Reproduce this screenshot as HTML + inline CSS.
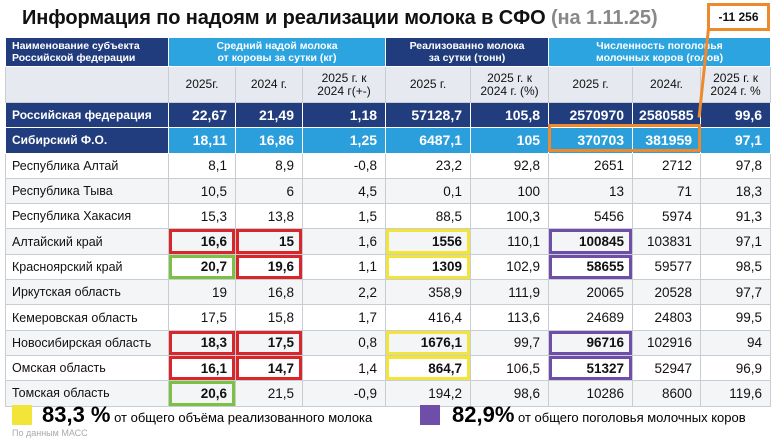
<!DOCTYPE html>
<html><head><meta charset="utf-8"><style>
body{margin:0;width:775px;height:443px;background:#fff;font-family:"Liberation Sans",sans-serif;position:relative;overflow:hidden}
#title{position:absolute;left:22px;top:7px;font-size:20px;font-weight:bold;color:#111;white-space:nowrap;letter-spacing:-0.1px}
#title span{color:#888}
table{position:absolute;left:5px;top:37px;border-collapse:collapse;table-layout:fixed;width:765px}
td{border:1px solid #c8cdd4;height:24.3px;padding:0 8px 0 6px;font-size:13.5px;text-align:right;color:#111;white-space:nowrap}
td.n{text-align:left;font-size:12.5px}
.h1 td{height:28px;color:#fff;font-size:10.5px;font-weight:bold;text-align:center;line-height:12px;border-color:#fff;padding:0}
.h1 td.n{text-align:left;padding-left:6px}
.h2 td{height:35px;background:#e6eaf0;text-align:center;font-size:12px;padding:0;line-height:13px}
.dk{background:#213c7c}.lt{background:#2ba4df}
.rf td,.sf td{color:#fff;font-weight:bold;font-size:14px;border-color:#fff}
.rf td{background:#223d7d}.sf td{background:#2b9fdc}.sf td.n{background:#223d7d}
.rf td.n,.sf td.n{font-size:12px}
tbody.d tr:nth-child(even) td{background:#f4f5f7}
.r{box-shadow:inset 0 0 0 3px #d9262a;font-weight:bold}
.g{box-shadow:inset 0 0 0 3px #7cc142;font-weight:bold}
.y{box-shadow:inset 0 0 0 3px #f3e43a;font-weight:bold}
.p{box-shadow:inset 0 0 0 3px #6e4ea8;font-weight:bold}
.o{position:absolute;border:3px solid #ee8a2c}
</style></head><body>
<div id="title">Информация по надоям и реализации молока в СФО <span>(на 1.11.25)</span></div>
<table>
<colgroup><col style="width:163px"><col style="width:67px"><col style="width:67px"><col style="width:83px"><col style="width:85px"><col style="width:78px"><col style="width:84px"><col style="width:68px"><col style="width:70px"></colgroup>
<tr class="h1"><td class="n dk">Наименование субъекта<br>Российской федерации</td><td colspan="3" class="lt">Средний надой молока<br>от коровы за сутки (кг)</td><td colspan="2" class="dk">Реализованно молока<br>за сутки (тонн)</td><td colspan="3" class="lt">Численность поголовья<br>молочных коров (голов)</td></tr>
<tr class="h2"><td></td><td>2025г.</td><td>2024 г.</td><td>2025 г. к<br>2024 г(+-)</td><td>2025 г.</td><td>2025 г. к<br>2024 г. (%)</td><td>2025 г.</td><td>2024г.</td><td>2025 г. к<br>2024 г. %</td></tr>
<tr class="rf"><td class="n">Российская федерация</td><td>22,67</td><td>21,49</td><td>1,18</td><td>57128,7</td><td>105,8</td><td>2570970</td><td>2580585</td><td>99,6</td></tr>
<tr class="sf"><td class="n">Сибирский Ф.О.</td><td>18,11</td><td>16,86</td><td>1,25</td><td>6487,1</td><td>105</td><td>370703</td><td>381959</td><td>97,1</td></tr>
<tbody class="d">
<tr><td class="n">Республика Алтай</td><td>8,1</td><td>8,9</td><td>-0,8</td><td>23,2</td><td>92,8</td><td>2651</td><td>2712</td><td>97,8</td></tr>
<tr><td class="n">Республика Тыва</td><td>10,5</td><td>6</td><td>4,5</td><td>0,1</td><td>100</td><td>13</td><td>71</td><td>18,3</td></tr>
<tr><td class="n">Республика Хакасия</td><td>15,3</td><td>13,8</td><td>1,5</td><td>88,5</td><td>100,3</td><td>5456</td><td>5974</td><td>91,3</td></tr>
<tr><td class="n">Алтайский край</td><td class="r">16,6</td><td class="r">15</td><td>1,6</td><td class="y">1556</td><td>110,1</td><td class="p">100845</td><td>103831</td><td>97,1</td></tr>
<tr><td class="n">Красноярский край</td><td class="g">20,7</td><td class="r">19,6</td><td>1,1</td><td class="y">1309</td><td>102,9</td><td class="p">58655</td><td>59577</td><td>98,5</td></tr>
<tr><td class="n">Иркутская область</td><td>19</td><td>16,8</td><td>2,2</td><td>358,9</td><td>111,9</td><td>20065</td><td>20528</td><td>97,7</td></tr>
<tr><td class="n">Кемеровская область</td><td>17,5</td><td>15,8</td><td>1,7</td><td>416,4</td><td>113,6</td><td>24689</td><td>24803</td><td>99,5</td></tr>
<tr><td class="n">Новосибирская область</td><td class="r">18,3</td><td class="r">17,5</td><td>0,8</td><td class="y">1676,1</td><td>99,7</td><td class="p">96716</td><td>102916</td><td>94</td></tr>
<tr><td class="n">Омская область</td><td class="r">16,1</td><td class="r">14,7</td><td>1,4</td><td class="y">864,7</td><td>106,5</td><td class="p">51327</td><td>52947</td><td>96,9</td></tr>
<tr><td class="n">Томская область</td><td class="g">20,6</td><td>21,5</td><td>-0,9</td><td>194,2</td><td>98,6</td><td>10286</td><td>8600</td><td>119,6</td></tr>
</tbody></table>
<div class="o" style="left:548px;top:124px;width:147px;height:22px"></div>
<div class="o" style="left:707px;top:3px;width:57px;height:22px;font-size:12px;font-weight:bold;line-height:22px;text-align:center;color:#111">-11 256</div>
<div style="position:absolute;left:707px;top:28px;width:3px;height:90px;background:#ee8a2c;transform:rotate(6deg);transform-origin:top"></div>
<div style="position:absolute;left:12px;top:405px;width:20px;height:20px;background:#f3e43a"></div>
<div style="position:absolute;left:42px;top:402px;white-space:nowrap;font-size:13px"><b style="font-size:22px">83,3 %</b> от общего объёма реализованного молока</div>
<div style="position:absolute;left:420px;top:405px;width:20px;height:20px;background:#6e4ea8"></div>
<div style="position:absolute;left:452px;top:402px;white-space:nowrap;font-size:13px"><b style="font-size:22px">82,9%</b> от общего поголовья молочных коров</div>
<div style="position:absolute;left:12px;top:428px;font-size:9px;color:#aaa">По данным МАСС</div>
</body></html>
